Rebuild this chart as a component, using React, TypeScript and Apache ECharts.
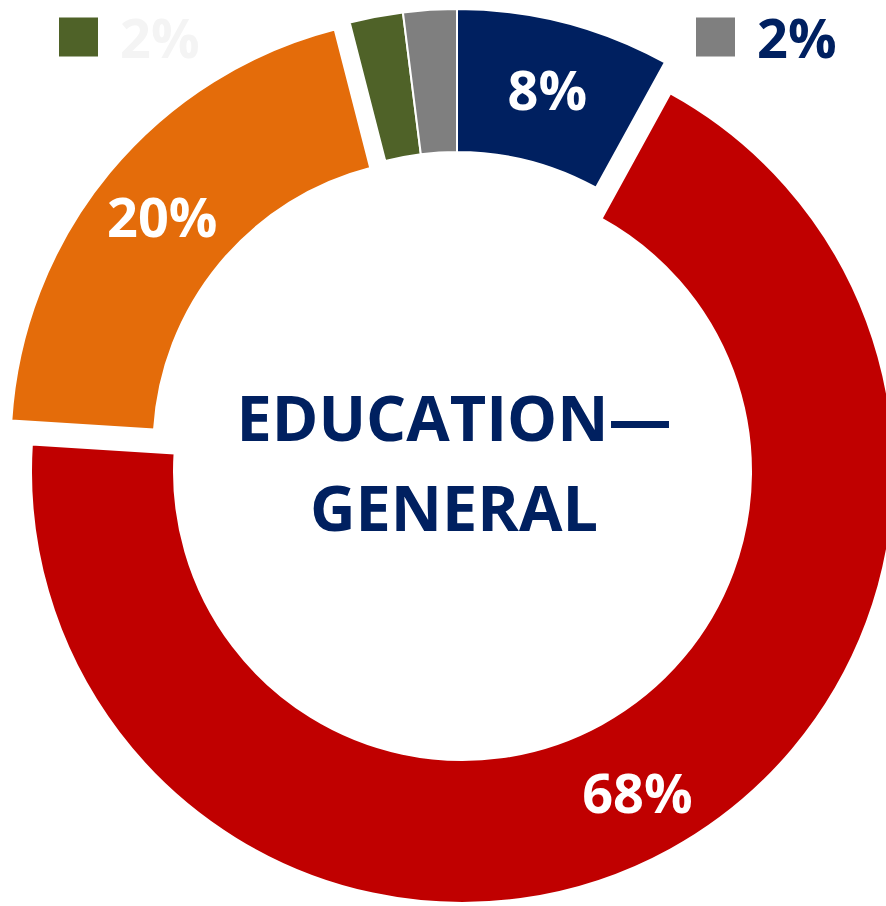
import React, { useEffect, useRef } from 'react';
import * as echarts from 'echarts';

const categories = ['Segment A', 'Segment B', 'Segment C', 'Segment D', 'Segment E'];
const values = [8, 68, 20, 2, 2];
const colors = ['#002060', '#C00000', '#E46C0A', '#4F6228', '#7F7F7F'];
const centerTitle = 'EDUCATION—\nGENERAL';
const legendLeftItems = ['Segment D'];
const legendRightItems = ['Segment E'];

const FONT = '"Open Sans", "Noto Sans", sans-serif';

export default function App() {
  const ref = useRef<HTMLDivElement>(null);

  useEffect(() => {
    const chart = echarts.init(ref.current!, null, { renderer: 'svg' });
    const total = values.reduce((a, b) => a + b, 0);
    const pct = (name: string) =>
      Math.round((values[categories.indexOf(name)] / total) * 100) + '%';

    const layers = [
      { center: [457, 440.5], show: [0, 3, 4], labels: [0], dx: 0, dy: 0 },
      { center: [462.5, 471.5], show: [1], labels: [1], dx: 0, dy: 2 },
      { center: [442, 447.5], show: [2], labels: [2], dx: 0, dy: 0 },
    ];

    const series = layers.map((layer, li) => ({
      type: 'pie',
      name: 'layer' + li,
      center: layer.center,
      radius: [288.5, 431.5],
      startAngle: 90,
      clockwise: true,
      avoidLabelOverlap: false,
      silent: true,
      labelLine: { show: false },
      labelLayout: { dx: layer.dx, dy: layer.dy },
      emphasis: { disabled: true },
      data: categories.map((name, i) => {
        const visible = layer.show.includes(i);
        return {
          name,
          value: values[i],
          itemStyle: visible
            ? { color: colors[i], borderColor: '#ffffff', borderWidth: 2 }
            : { color: 'rgba(0,0,0,0)', borderWidth: 0 },
          label: {
            show: layer.labels.includes(i),
            position: 'inside',
            formatter: (p: any) => Math.round(p.percent) + '%',
            color: '#ffffff',
            fontFamily: FONT,
            fontWeight: 'bold',
            fontSize: 54,
          },
        };
      }),
    }));

    const makeLegend = (items: string[], left: number, textColor: string) => ({
      left,
      top: 10,
      padding: 0,
      orient: 'horizontal',
      selectedMode: false,
      icon: 'rect',
      itemWidth: 39,
      itemHeight: 39,
      data: items.map((name) => ({
        name,
        itemStyle: { color: colors[categories.indexOf(name)], borderWidth: 0 },
      })),
      formatter: (name: string) => `{v|${pct(name)}}`,
      textStyle: {
        rich: {
          v: {
            color: textColor,
            fontFamily: FONT,
            fontWeight: 'bold',
            fontSize: 54,
            lineHeight: 39,
            padding: [0, 0, 0, 17],
          },
        },
      },
    });

    chart.setOption({
      animation: false,
      backgroundColor: '#ffffff',
      legend: [
        makeLegend(legendLeftItems, 59, '#F4F4F4'),
        makeLegend(legendRightItems, 696, '#002060'),
      ],
      graphic: [
        {
          type: 'text',
          x: 454,
          y: 461,
          silent: true,
          style: {
            text: centerTitle,
            fill: '#002060',
            font: `bold 63px ${FONT}`,
            textAlign: 'center',
            textVerticalAlign: 'middle',
            lineHeight: 90,
          },
        },
      ],
      series,
    });

    return () => chart.dispose();
  }, []);

  return (
    <div
      ref={ref}
      style={{ position: 'fixed', left: 0, top: 0, width: 886, height: 906 }}
    />
  );
}
